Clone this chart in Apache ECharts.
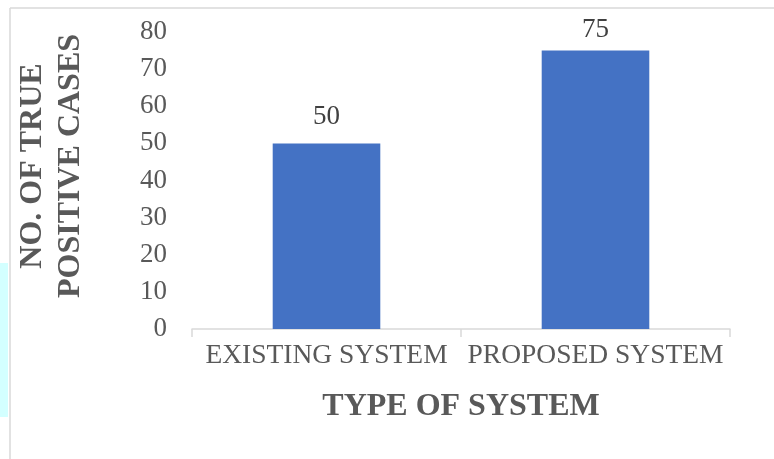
<!DOCTYPE html>
<html>
<head>
<meta charset="utf-8">
<script src="https://cdn.jsdelivr.net/npm/echarts@6/dist/echarts.min.js"></script>
<style>
html,body{margin:0;padding:0;background:#fff;}
#c{width:774px;height:459px;}
</style>
</head>
<body>
<div id="c"></div>
<script>
const categories = ['EXISTING SYSTEM', 'PROPOSED SYSTEM'];
const truePositives = [50, 75];
const yTicks = [0, 10, 20, 30, 40, 50, 60, 70, 80];
const xTitle = 'TYPE OF SYSTEM';
const yTitleLines = ['NO. OF TRUE', 'POSITIVE CASES'];

const FONT = "'Liberation Serif', 'Times New Roman', serif";
const TXT = '#595959';
const labelDistances = [13, 7];
const chart = echarts.init(document.getElementById('c'), null, {renderer: 'canvas'});
chart.setOption({
  backgroundColor: '#ffffff',
  animation: false,
  grid: {left: 192, right: 44, top: 32, bottom: 130, containLabel: false},
  xAxis: {
    type: 'category',
    data: categories,
    boundaryGap: true,
    axisLine: {lineStyle: {color: '#d9d9d9', width: 1.5}},
    axisTick: {show: true, length: 8, alignWithLabel: false, lineStyle: {color: '#d9d9d9', width: 1.5}},
    axisLabel: {color: TXT, fontFamily: FONT, fontSize: 27.5, margin: 13, interval: 0, hideOverlap: false},
    name: xTitle,
    nameLocation: 'middle',
    nameGap: 62,
    nameTextStyle: {color: TXT, fontFamily: FONT, fontSize: 32, fontWeight: 'bold'}
  },
  yAxis: {
    type: 'value',
    min: yTicks[0],
    max: yTicks[yTicks.length - 1],
    interval: yTicks[1] - yTicks[0],
    axisLine: {show: false},
    axisTick: {show: false},
    splitLine: {show: false},
    axisLabel: {color: TXT, fontFamily: FONT, fontSize: 27, margin: 25}
  },
  series: [{
    type: 'bar',
    data: truePositives.map((v, i) => ({value: v, label: {distance: labelDistances[i]}})),
    barCategoryGap: '60%',
    itemStyle: {color: '#4472C4'},
    label: {show: true, position: 'top', color: '#404040', fontFamily: FONT, fontSize: 27}
  }],
  graphic: [
    {type: 'rect', shape: {x: 0, y: 263, width: 8, height: 154}, style: {fill: '#d3ffff'}, silent: true},
    {type: 'line', shape: {x1: 10, y1: 8, x2: 774, y2: 8}, style: {stroke: '#d9d9d9', lineWidth: 1.5}, silent: true},
    {type: 'line', shape: {x1: 10, y1: 8, x2: 10, y2: 459}, style: {stroke: '#d9d9d9', lineWidth: 1.5}, silent: true},
    {
      type: 'text', x: 52, y: 166, rotation: Math.PI / 2,
      style: {text: yTitleLines.join('\n'), fill: TXT, font: 'bold 32px ' + FONT, lineHeight: 38, align: 'center', verticalAlign: 'middle'}
    }
  ]
});
</script>
</body>
</html>
